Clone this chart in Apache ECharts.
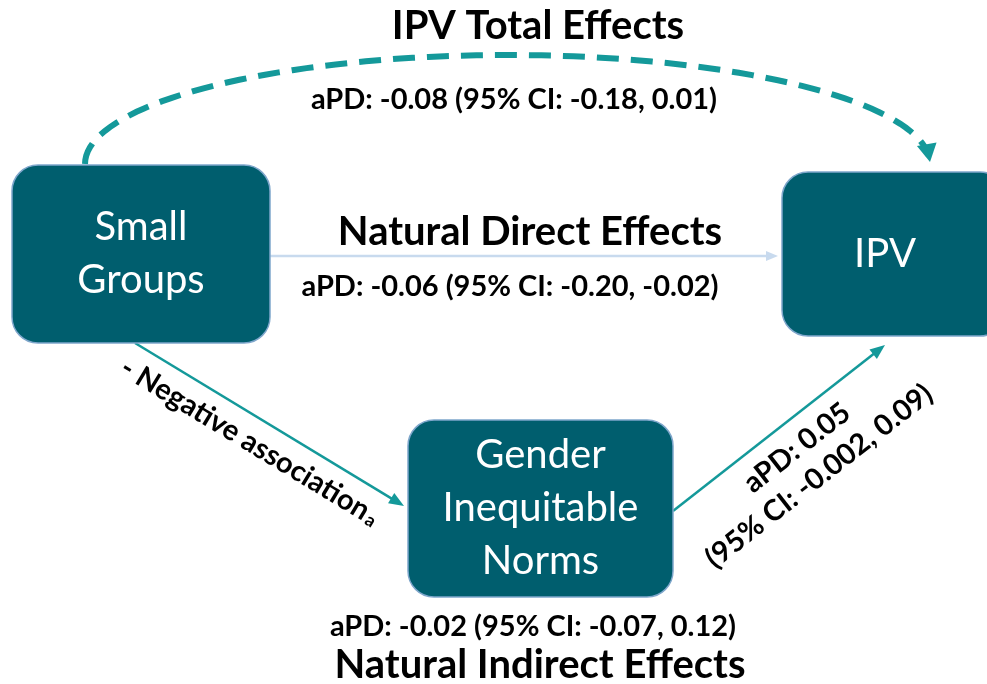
<!DOCTYPE html>
<html>
<head>
<meta charset="utf-8">
<style>
  html, body { margin: 0; padding: 0; background: #fff; }
  #chart { width: 987px; height: 684px; }
</style>
<script src="https://cdn.jsdelivr.net/npm/echarts@6/dist/echarts.min.js"></script>
</head>
<body>
<div id="chart"></div>
<script>
// --- data ---
var nodeNames = ['Small\nGroups', 'IPV', 'Gender\nInequitable\nNorms'];
var effectNames = ['IPV Total Effects', 'Natural Direct Effects', 'Natural Indirect Effects'];
var effectAPD = [-0.08, -0.06, -0.02];
var effectLow = [-0.18, -0.20, -0.07];
var effectHigh = [0.01, -0.02, 0.12];
var pathBAPD = [0.05];
var pathBLow = [-0.002];
var pathBHigh = [0.09];
var pathALabel = ['- Negative association'];

// --- layout (diagram space = pixel space) ---
var boxes = [[12, 165, 270, 343], [782, 172, 1006, 336], [408, 420, 673, 597]];
var edgeStart = [[85, 166], [270, 256], [135, 343], [673, 511]];
var edgeEnd = [[930, 162], [778, 256], [404, 506], [885, 345]];
var arcTop = [55, null, null, null];

(function() {
  var boxFill = '#005E6E';
  var boxLine = '#7EA6CB';
  var teal = '#14999A';
  var pale = '#C8DAEE';
  var ff = 'Lato, "Open Sans", sans-serif';

  function fmt(v) {
    var d = (v !== 0 && Math.abs(v) < 0.01) ? 3 : 2;
    return v.toFixed(d);
  }
  function apdText(a, lo, hi) {
    return 'aPD: ' + fmt(a) + ' (95% CI: ' + fmt(lo) + ', ' + fmt(hi) + ')';
  }

  var edgeStyle = [
    { color: teal, width: 6, dash: [22, 12], L: 18, W: 10 },
    { color: pale, width: 2.5, dash: null, L: 12, W: 5 },
    { color: teal, width: 2.5, dash: null, L: 15, W: 6 },
    { color: teal, width: 2.5, dash: null, L: 15, W: 6 }
  ];

  // labels: [x, y, rotationDeg]
  var labelPos = [
    [538, 26, 0], [514, 100, 0], [530, 232, 0], [510, 287, 0],
    [250, 442, -31.2], [808, 462, 38], [533, 627, 0], [540, 665, 0]
  ];
  var titleFont = 'bold 40px ' + ff;
  var valFont = 'bold 29px ' + ff;
  var labelText = [
    { text: effectNames[0], font: titleFont },
    { text: apdText(effectAPD[0], effectLow[0], effectHigh[0]), font: valFont },
    { text: effectNames[1], font: titleFont },
    { text: apdText(effectAPD[1], effectLow[1], effectHigh[1]), font: valFont },
    { text: '{m|' + pathALabel[0] + '}{s|a}', font: valFont, rich: true },
    { text: 'aPD: ' + fmt(pathBAPD[0]) + '\n(95% CI: ' + fmt(pathBLow[0]) + ', ' + fmt(pathBHigh[0]) + ')', font: valFont },
    { text: apdText(effectAPD[2], effectLow[2], effectHigh[2]), font: valFont },
    { text: effectNames[2], font: titleFont }
  ];

  function arrow(tip, d, L, W, color) {
    var bx = tip[0] - d[0] * L, by = tip[1] - d[1] * L;
    var nx = -d[1], ny = d[0];
    return {
      type: 'polygon',
      shape: { points: [tip, [bx + nx * W, by + ny * W], [bx - nx * W, by - ny * W]] },
      style: { fill: color }
    };
  }

  function renderEdge(params, api) {
    var i = params.dataIndex;
    var s = edgeStyle[i];
    var p0 = api.coord([api.value(0), api.value(1)]);
    var p1 = api.coord([api.value(2), api.value(3)]);
    var ls = { stroke: s.color, lineWidth: s.width, fill: null, lineDash: s.dash };
    var line, d;
    if (arcTop[i] != null) {
      // half ellipse from p0 over the top to p1
      var cx = (p0[0] + p1[0]) / 2, base = (p0[1] + p1[1]) / 2;
      var rx = (p1[0] - p0[0]) / 2, ry = base - api.coord([0, arcTop[i]])[1];
      var pts = [];
      var stop = Math.PI - 0.07;
      for (var k = 0; k <= 80; k++) {
        var t = stop * k / 80;
        pts.push([cx - rx * Math.cos(t), base - ry * Math.sin(t)]);
      }
      var last = pts[pts.length - 1];
      var dx = p1[0] - last[0], dy = p1[1] - last[1];
      var len = Math.sqrt(dx * dx + dy * dy);
      d = [dx / len, dy / len];
      line = { type: 'polyline', shape: { points: pts }, style: ls };
    } else {
      var ex = p1[0] - p0[0], ey = p1[1] - p0[1];
      var el = Math.sqrt(ex * ex + ey * ey);
      d = [ex / el, ey / el];
      var e = [p1[0] - d[0] * s.L * 0.7, p1[1] - d[1] * s.L * 0.7];
      line = { type: 'line', shape: { x1: p0[0], y1: p0[1], x2: e[0], y2: e[1] }, style: ls };
    }
    return { type: 'group', children: [line, arrow(p1, d, s.L, s.W, s.color)] };
  }

  function renderBox(params, api) {
    var i = params.dataIndex;
    var a = api.coord([api.value(0), api.value(1)]);
    var b = api.coord([api.value(2), api.value(3)]);
    return {
      type: 'group',
      children: [{
        type: 'rect',
        shape: { x: a[0], y: a[1], width: b[0] - a[0], height: b[1] - a[1], r: 26 },
        style: { fill: boxFill, stroke: boxLine, lineWidth: 1.5 }
      }, {
        type: 'text',
        x: i === 1 ? (a[0] + 885 - 782) : (a[0] + b[0]) / 2,
        y: (a[1] + b[1]) / 2,
        style: {
          text: nodeNames[i], fill: '#fff', font: '40px ' + ff,
          align: 'center', verticalAlign: 'middle', lineHeight: 53
        }
      }]
    };
  }

  function renderLabel(params, api) {
    var i = params.dataIndex;
    var p = api.coord([api.value(0), api.value(1)]);
    var t = labelText[i];
    var style = { text: t.text, font: t.font, fill: '#000', align: 'center', verticalAlign: 'middle', lineHeight: 36 };
    if (t.rich) {
      style.rich = {
        m: { font: valFont, fill: '#000' },
        s: { font: 'bold 18px ' + ff, fill: '#000', padding: [10, 0, 0, 2] }
      };
    }
    return { type: 'text', x: p[0], y: p[1], rotation: api.value(2) * Math.PI / 180, style: style };
  }

  var edgeData = edgeStart.map(function(s, i) { return [s[0], s[1], edgeEnd[i][0], edgeEnd[i][1]]; });

  var chart = echarts.init(document.getElementById('chart'), null, { renderer: 'canvas' });
  chart.setOption({
    animation: false,
    backgroundColor: '#fff',
    grid: { left: 0, right: 0, top: 0, bottom: 0 },
    xAxis: { type: 'value', min: 0, max: 987, show: false },
    yAxis: { type: 'value', min: 0, max: 684, inverse: true, show: false },
    series: [
      { type: 'custom', renderItem: renderEdge, data: edgeData, encode: { x: [0, 2], y: [1, 3] }, clip: false, silent: true },
      { type: 'custom', renderItem: renderBox, data: boxes, encode: { x: [0, 2], y: [1, 3] }, clip: false, silent: true },
      { type: 'custom', renderItem: renderLabel, data: labelPos, encode: { x: 0, y: 1 }, clip: false, silent: true }
    ]
  });

  window.addEventListener('resize', function() { chart.resize(); });
})();
</script>
</body>
</html>
